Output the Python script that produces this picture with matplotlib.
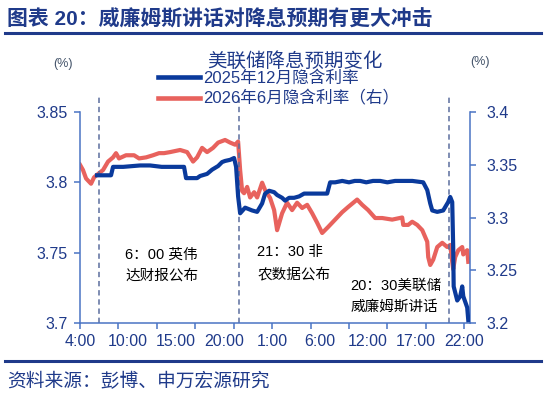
import matplotlib
matplotlib.use("Agg")
import matplotlib.pyplot as plt
from matplotlib.lines import Line2D

plt.rcParams['font.family'] = ['Liberation Sans', 'Noto Sans CJK SC', 'DejaVu Sans']

# ---------------- data ----------------
x_labels = ["4:00", "10:00", "15:00", "20:00", "1:00", "6:00", "12:00", "17:00", "22:00"]

# 2025年12月隐含利率 (left axis)
blue_x = [1.77, 3.23, 3.44, 4.5, 6.25, 7.29, 8.5, 9.6, 10.83, 11.04, 12.19, 12.5, 13.23, 13.75,
          14.38, 14.79, 15.10, 15.63, 16.04, 16.25, 16.46, 16.67, 17.19, 17.92, 18.44, 18.96,
          19.27, 19.69, 20.21, 20.52, 21.04, 21.35, 21.77, 22.29, 22.81, 23.33, 24.5, 25.73,
          26.04, 26.56, 27.3, 28.0, 28.6, 29.17, 29.8, 30.5, 31.25, 32.0, 32.8, 33.85, 34.6,
          35.73, 36.15, 36.46, 36.67, 37.19, 37.81, 38.33, 38.54, 38.75, 38.85, 38.9, 39.27,
          39.58, 39.79, 39.90, 40.31, 40.42]
blue_y = [3.805, 3.805, 3.811, 3.811, 3.812, 3.812, 3.811, 3.811, 3.811, 3.803, 3.803, 3.8045,
          3.806, 3.809, 3.8116, 3.8144, 3.8152, 3.816, 3.8173, 3.811, 3.790, 3.778, 3.782,
          3.780, 3.779, 3.785, 3.792, 3.794, 3.793, 3.791, 3.789, 3.787, 3.789, 3.789, 3.790,
          3.792, 3.792, 3.792, 3.800, 3.800, 3.801, 3.800, 3.801, 3.801, 3.800, 3.801, 3.801,
          3.800, 3.801, 3.801, 3.801, 3.800, 3.7945, 3.785, 3.780, 3.779, 3.780, 3.786,
          3.7896, 3.786, 3.754, 3.726, 3.716, 3.719, 3.726, 3.719, 3.711, 3.702]

# 2026年6月隐含利率 (right axis)
red_x = [0.0, 0.31, 0.63, 1.15, 1.46, 1.98, 2.40, 2.92, 3.44, 3.75, 4.06, 4.79, 5.63, 6.15,
         6.88, 7.60, 8.23, 8.75, 9.38, 10.42, 11.15, 11.77, 12.19, 12.71, 13.23, 13.85, 14.38,
         15.10, 15.63, 16.15, 16.46, 16.67, 16.88, 17.08, 17.40, 17.71, 18.13, 18.44, 18.96,
         19.27, 19.79, 20.21, 20.52, 21.04, 21.56, 22.08, 22.60, 23.13, 23.65, 24.17, 24.69,
         25.21, 25.83, 26.56, 27.29, 27.92, 28.85, 29.38, 30.0, 30.73, 31.46, 32.5, 33.54,
         33.65, 34.17, 34.58, 35.10, 35.63, 36.15, 36.25, 36.46, 36.77, 37.19, 37.71, 38.23,
         38.54, 38.75, 38.85, 39.06, 39.38, 39.79, 39.90, 40.31, 40.42]
red_y = [3.350, 3.345, 3.337, 3.332, 3.338, 3.342, 3.345, 3.353, 3.357, 3.361, 3.356, 3.359,
         3.359, 3.356, 3.357, 3.359, 3.361, 3.361, 3.362, 3.364, 3.362, 3.353, 3.357, 3.366,
         3.362, 3.366, 3.371, 3.3735, 3.371, 3.369, 3.372, 3.345, 3.325, 3.323, 3.329, 3.319,
         3.324, 3.319, 3.333, 3.326, 3.3185, 3.307, 3.288, 3.304, 3.314, 3.307, 3.314, 3.309,
         3.312, 3.304, 3.295, 3.2853, 3.291, 3.298, 3.305, 3.310, 3.317, 3.312, 3.307, 3.2995,
         3.2995, 3.298, 3.300, 3.293, 3.293, 3.296, 3.293, 3.288, 3.277, 3.2625, 3.255, 3.260,
         3.272, 3.276, 3.272, 3.274, 3.258, 3.251, 3.2625, 3.269, 3.272, 3.265, 3.269, 3.258]

event_x = [2.0, 16.6, 38.4]
event_text = ["6：00 英伟\n达财报公布", "21：30 非\n农数据公布", "20：30美联储\n威廉姆斯讲话"]

left_ticks = [3.7, 3.75, 3.8, 3.85]
right_ticks = [3.2, 3.25, 3.3, 3.35, 3.4]

# ---------------- style ----------------
NAVY = '#1F3A8A'
BLUE = '#0A3A9C'
RED = '#E8625D'
SPINE = '#4A74C4'
DASH = '#5B6E9E'

fig = plt.figure(figsize=(5.46, 3.96), dpi=100)
W, H = 546, 396
ax = fig.add_axes([80 / W, 1 - 323 / H, 390 / W, 211 / H])
ax2 = ax.twinx()

ax.plot(blue_x, blue_y, color=BLUE, lw=3.0, solid_joinstyle='round', zorder=3)
ax2.plot(red_x, red_y, color=RED, lw=3.0, solid_joinstyle='round', zorder=2)
ax.set_zorder(ax2.get_zorder() + 1)
ax.patch.set_visible(False)

ax.set_xlim(0, 40.6)
ax.set_ylim(3.7, 3.85)
ax2.set_ylim(3.2, 3.4)

for ex in event_x:
    ax.plot([ex, ex], [0, 1.07], transform=ax.get_xaxis_transform(), color=DASH,
            lw=1.1, ls=(0, (3.5, 2.5)), clip_on=False, zorder=1)

# annotations
fam = ['Liberation Sans', 'Noto Sans CJK SC']
ax.text(4.7, 3.7412, event_text[0], fontsize=10.5, color='black', va='center', ha='left',
        linespacing=1.68, family=fam)
ax.text(18.45, 3.7425, event_text[1], fontsize=10.5, color='black', va='center', ha='left',
        linespacing=1.68, family=fam)
ax.text(28.15, 3.7188, event_text[2], fontsize=10.5, color='black', va='center', ha='left',
        linespacing=1.68, family=fam)

# spines
for a in (ax, ax2):
    a.spines['top'].set_visible(False)
ax.spines['right'].set_visible(False)
ax2.spines['left'].set_visible(False)
ax2.spines['bottom'].set_visible(False)
ax.spines['left'].set_color(SPINE)
ax.spines['bottom'].set_color(SPINE)
ax2.spines['right'].set_color(SPINE)
for s in (ax.spines['left'], ax.spines['bottom'], ax2.spines['right']):
    s.set_linewidth(1.1)

ax.set_yticks(left_ticks)
ax.set_yticklabels(["3.7", "3.75", "3.8", "3.85"])
ax2.set_yticks(right_ticks)
ax2.set_yticklabels(["3.2", "3.25", "3.3", "3.35", "3.4"])
ax.tick_params(axis='y', colors=SPINE, labelcolor=NAVY, labelsize=11.5, length=4, width=1.1, pad=5)
ax2.tick_params(axis='y', colors=SPINE, labelcolor=NAVY, labelsize=11.5, length=4, width=1.1, pad=8)

ax.xaxis.remove_overlapping_locs = False
ax.set_xticks([0, 4, 8, 12, 16, 20, 24, 28, 32, 36, 40])
ax.set_xticklabels([])
ax.set_xticks([0, 5, 10, 15, 20, 25, 30, 35, 40], minor=True)
ax.set_xticklabels(x_labels, minor=True)
ax.tick_params(axis='x', which='major', colors=SPINE, length=4, width=1.1)
ax.tick_params(axis='x', which='minor', length=0, labelcolor=NAVY, labelsize=11.5, pad=8)

# (%) labels
fig.text(63 / W, 1 - 64 / H, "(%)", fontsize=9, color='#44546A', ha='center', va='center')
fig.text(480 / W, 1 - 62 / H, "(%)", fontsize=9, color='#44546A', ha='center', va='center')

# chart title
fig.text(295 / W, 1 - 61 / H, "美联储降息预期变化", fontsize=14, color=NAVY, ha='center', va='center',
         family=['Noto Sans CJK SC'])

# legend
handles = [Line2D([0], [0], color=BLUE, lw=3.3), Line2D([0], [0], color=RED, lw=3.3)]
leg = fig.legend(handles, ["2025年12月隐含利率", "2026年6月隐含利率（右）"],
                 loc='upper left', bbox_to_anchor=(158 / W, 1 - 70 / H), bbox_transform=fig.transFigure,
                 frameon=False, handlelength=2.5, handletextpad=0.2, labelspacing=0.3,
                 borderpad=0, borderaxespad=0, prop={'family': fam, 'size': 12})
for t in leg.get_texts():
    t.set_color(NAVY)

# header and footer
fig.text(7 / W, 1 - 19 / H, "图表 20：威廉姆斯讲话对降息预期有更大冲击", fontsize=15, fontweight='bold',
         color=NAVY, ha='left', va='center', family=fam)
fig.add_artist(Line2D([5 / W, 541 / W], [1 - 33 / H, 1 - 33 / H], color=NAVY, lw=2.2,
                      transform=fig.transFigure))
fig.add_artist(Line2D([5 / W, 541 / W], [1 - 361 / H, 1 - 361 / H], color=NAVY, lw=2.2,
                      transform=fig.transFigure))
fig.text(7 / W, 1 - 382 / H, "资料来源：彭博、申万宏源研究", fontsize=13.5, color=NAVY, ha='left',
         va='center', family=['Noto Sans CJK SC'])

fig.savefig("out.png", dpi=100)
